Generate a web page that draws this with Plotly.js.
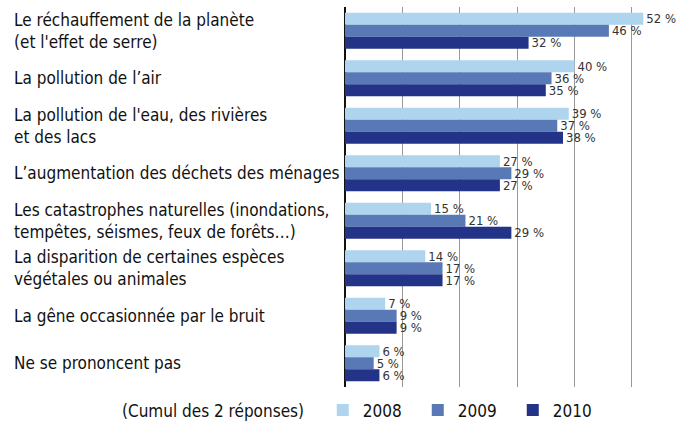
<!DOCTYPE html>
<html>
<head>
<meta charset="utf-8">
<script src="https://cdn.plot.ly/plotly-3.0.1.min.js"></script>
<style>html,body{margin:0;padding:0;background:#fff;}#chart{width:676px;height:421px;}</style>
</head>
<body>
<div id="chart"></div>
<script>
const categories = [
  "Le réchauffement de la planète<br>(et l'effet de serre)",
  "La pollution de l’air",
  "La pollution de l'eau, des rivières<br>et des lacs",
  "L’augmentation des déchets des ménages",
  "Les catastrophes naturelles (inondations,<br>tempêtes, séismes, feux de forêts…)",
  "La disparition de certaines espèces<br>végétales ou animales",
  "La gêne occasionnée par le bruit",
  "Ne se prononcent pas"
];
const years = ["2008", "2009", "2010"];
const values2008 = [52, 40, 39, 27, 15, 14, 7, 6];
const values2009 = [46, 36, 37, 29, 21, 17, 9, 5];
const values2010 = [32, 35, 38, 27, 29, 17, 9, 6];
const legendNote = "(Cumul des 2 réponses)";
const colors = ["#aed4ee", "#5878b6", "#233388"];
const FONT = "'Liberation Sans Narrow', 'DejaVu Sans Condensed', 'Roboto', sans-serif";

const series = [values2008, values2009, values2010];
const traces = series.map((vals, i) => ({
  type: "bar",
  orientation: "h",
  name: years[i],
  y: categories,
  x: vals,
  marker: {color: colors[i], line: {width: 0}},
  text: vals.map(v => v + " %"),
  textposition: "outside",
  constraintext: "none",
  cliponaxis: false,
  textfont: {family: FONT, size: 13, color: "#333"},
  hoverinfo: "none"
}));

const annotations = categories.map(c => ({
  xref: "paper", yref: "y",
  x: -1.018, y: c,
  xanchor: "left", yanchor: "middle",
  align: "left",
  text: c,
  showarrow: false,
  font: {family: FONT, size: 17, color: "#111"}
}));
annotations.push({
  xref: "paper", yref: "paper",
  x: -0.687, y: -0.062,
  xanchor: "left", yanchor: "middle",
  text: legendNote,
  showarrow: false,
  font: {family: FONT, size: 17, color: "#111"}
});

const layout = {
  width: 676, height: 421,
  margin: {l: 345, r: 4, t: 7, b: 34, autoexpand: false},
  paper_bgcolor: "#fff", plot_bgcolor: "#fff",
  barmode: "group",
  bargap: 0.24,
  bargroupgap: 0,
  font: {family: FONT, color: "#111"},
  xaxis: {
    range: [0, 57],
    dtick: 10,
    showgrid: true,
    gridcolor: "#999",
    gridwidth: 1,
    showticklabels: false,
    ticks: "",
    zeroline: true,
    zerolinecolor: "#111",
    zerolinewidth: 1.5,
    showline: false,
    fixedrange: true
  },
  yaxis: {
    autorange: "reversed",
    showticklabels: false,
    ticks: "",
    showgrid: false,
    zeroline: false,
    showline: false,
    fixedrange: true
  },
  showlegend: true,
  legend: {
    orientation: "h",
    x: -0.068, xanchor: "left",
    y: -0.062, yanchor: "middle",
    font: {family: FONT, size: 17, color: "#111"},
    itemwidth: 30,
    entrywidth: 50,
    traceorder: "normal"
  },
  annotations: annotations
};

Plotly.newPlot("chart", traces, layout, {displayModeBar: false, staticPlot: true});
</script>
</body>
</html>
